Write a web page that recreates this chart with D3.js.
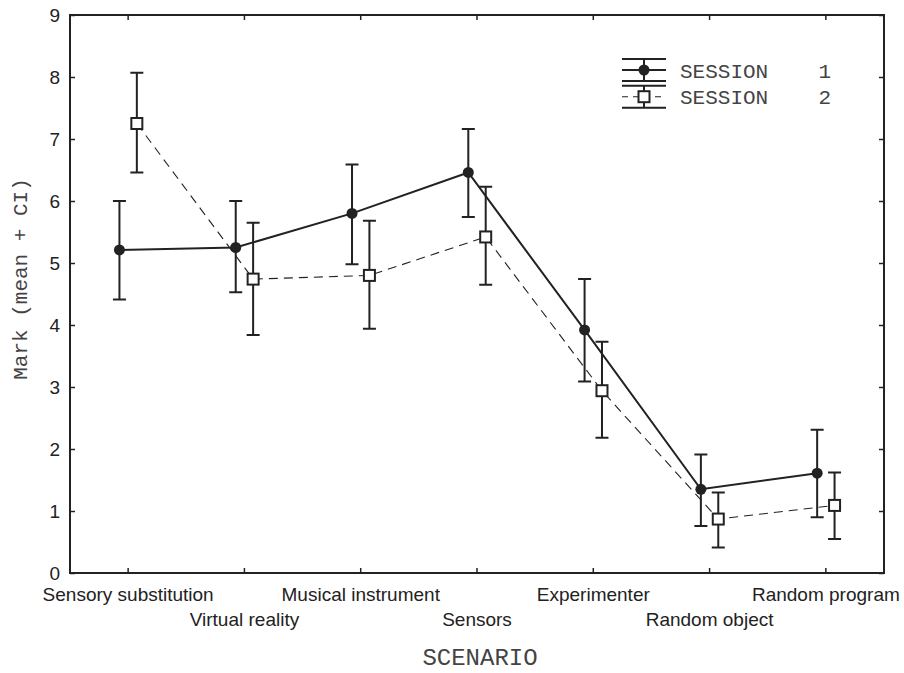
<!DOCTYPE html>
<html>
<head>
<meta charset="utf-8">
<script src="https://cdn.jsdelivr.net/npm/d3@7"></script>
<style>
  body { margin: 0; background: #fff; }
  svg { display: block; }
</style>
</head>
<body>
<div id="chart"></div>
<script>
const WIDTH = 904;
const HEIGHT = 673;
const INK = "#222";

const scenarios = ["Sensory substitution", "Virtual reality", "Musical instrument", "Sensors",
  "Experimenter", "Random object", "Random program"];

// session 1: mean and CI bounds
const s1Mean  = [5.21, 5.25, 5.80, 6.46, 3.92, 1.35, 1.61];
const s1Upper = [6.00, 6.00, 6.59, 7.16, 4.74, 1.91, 2.31];
const s1Lower = [4.41, 4.53, 4.98, 5.74, 3.09, 0.76, 0.90];

// session 2
const s2Mean  = [7.25, 4.74, 4.80, 5.42, 2.94, 0.87, 1.09];
const s2Upper = [8.07, 5.65, 5.68, 6.23, 3.73, 1.30, 1.62];
const s2Lower = [6.46, 3.84, 3.94, 4.65, 2.18, 0.41, 0.55];

const yTicks = [0, 1, 2, 3, 4, 5, 6, 7, 8, 9];
const legendLabels = ["SESSION    1", "SESSION    2"];

const margin = { left: 70, right: 20, top: 15, bottom: 100 };
const plotRight = WIDTH - margin.right;
const plotBottom = HEIGHT - margin.bottom;

const x = d3.scaleBand()
  .domain(scenarios)
  .range([margin.left, plotRight])
  .padding(0);

const y = d3.scaleLinear()
  .domain([0, 9])
  .range([plotBottom, margin.top]);

const cx = d => x(d) + x.bandwidth() / 2;
const OFFSET = 8.7;

const series = [
  { name: "s1", mean: s1Mean, upper: s1Upper, lower: s1Lower, dx: -OFFSET },
  { name: "s2", mean: s2Mean, upper: s2Upper, lower: s2Lower, dx: OFFSET }
].map(s => ({
  ...s,
  points: scenarios.map((c, i) => ({ cat: c, m: s.mean[i], hi: s.upper[i], lo: s.lower[i] }))
}));

const svg = d3.select("#chart")
  .append("svg")
  .attr("width", WIDTH)
  .attr("height", HEIGHT);

// frame
svg.append("rect")
  .attr("x", margin.left)
  .attr("y", margin.top)
  .attr("width", plotRight - margin.left)
  .attr("height", plotBottom - margin.top)
  .attr("fill", "none")
  .attr("stroke", INK)
  .attr("stroke-width", 2);

// left axis
const yAxis = svg.append("g")
  .attr("transform", `translate(${margin.left},0)`)
  .call(d3.axisLeft(y).tickValues(yTicks).tickSize(-5).tickSizeOuter(0).tickPadding(10));
yAxis.select(".domain").remove();
yAxis.selectAll("line").attr("stroke", INK).attr("stroke-width", 1.5);
yAxis.selectAll("text")
  .style("font-family", "'Liberation Sans', Arial, sans-serif")
  .style("font-size", "19px")
  .attr("fill", INK);

// right axis ticks (inward)
const yRight = svg.append("g")
  .attr("transform", `translate(${plotRight},0)`)
  .call(d3.axisRight(y).tickValues(yTicks).tickSize(-5).tickSizeOuter(0).tickFormat(""));
yRight.select(".domain").remove();
yRight.selectAll("line").attr("stroke", INK).attr("stroke-width", 1.5);

// bottom axis with staggered labels
const xAxis = svg.append("g")
  .attr("transform", `translate(0,${plotBottom})`)
  .call(d3.axisBottom(x).tickSize(-5).tickSizeOuter(0).tickPadding(0));
xAxis.select(".domain").remove();
xAxis.selectAll("line").attr("stroke", INK).attr("stroke-width", 1.5);
xAxis.selectAll("text")
  .attr("dy", null)
  .attr("y", (d, i) => i % 2 === 0 ? 28 : 53)
  .style("font-family", "'Liberation Sans', Arial, sans-serif")
  .style("font-size", "19px")
  .attr("fill", INK);

// top ticks (inward)
const xTop = svg.append("g")
  .attr("transform", `translate(0,${margin.top})`)
  .call(d3.axisTop(x).tickSize(-5).tickSizeOuter(0).tickFormat(""));
xTop.select(".domain").remove();
xTop.selectAll("line").attr("stroke", INK).attr("stroke-width", 1.5);

// axis titles
svg.append("text")
  .attr("transform", `translate(27,279) rotate(-90)`)
  .attr("text-anchor", "middle")
  .style("font-family", "'Liberation Mono', 'Courier New', monospace")
  .style("font-size", "21px")
  .attr("fill", "#444")
  .text("Mark (mean + CI)");

svg.append("text")
  .attr("x", 480)
  .attr("y", 665)
  .attr("text-anchor", "middle")
  .style("font-family", "'Liberation Mono', 'Courier New', monospace")
  .style("font-size", "24px")
  .attr("fill", "#444")
  .text("SCENARIO");

// lines
const line = dx => d3.line()
  .x(d => cx(d.cat) + dx)
  .y(d => y(d.m));

series.forEach(s => {
  svg.append("path")
    .datum(s.points)
    .attr("d", line(s.dx))
    .attr("fill", "none")
    .attr("stroke", INK)
    .attr("stroke-width", s.name === "s1" ? 2 : 1.1)
    .attr("stroke-dasharray", s.name === "s1" ? null : "9,6");
});

// error bars
const CAP = 6.5;
series.forEach(s => {
  const g = svg.append("g").attr("stroke", INK).attr("stroke-width", 2);
  g.selectAll(".bar")
    .data(s.points)
    .enter()
    .append("path")
    .attr("fill", "none")
    .attr("d", d => {
      const px = cx(d.cat) + s.dx;
      return `M${px},${y(d.hi)}V${y(d.lo)}` +
        `M${px - CAP},${y(d.hi)}H${px + CAP}` +
        `M${px - CAP},${y(d.lo)}H${px + CAP}`;
    });
});

// markers
svg.append("g")
  .selectAll("circle")
  .data(series[0].points)
  .enter()
  .append("circle")
  .attr("cx", d => cx(d.cat) + series[0].dx)
  .attr("cy", d => y(d.m))
  .attr("r", 5.5)
  .attr("fill", INK);

svg.append("g")
  .selectAll("rect")
  .data(series[1].points)
  .enter()
  .append("rect")
  .attr("x", d => cx(d.cat) + series[1].dx - 5.5)
  .attr("y", d => y(d.m) - 5.5)
  .attr("width", 11)
  .attr("height", 11)
  .attr("fill", "#fff")
  .attr("stroke", INK)
  .attr("stroke-width", 2);

// legend
const legend = svg.append("g").attr("transform", "translate(643,70)");
const rowGap = 26.7;

legendLabels.forEach((label, i) => {
  const row = legend.append("g").attr("transform", `translate(0,${i * rowGap})`);
  row.append("path")
    .attr("d", `M-21,-11H23M-21,11H23M1,-11V11`)
    .attr("stroke", INK)
    .attr("stroke-width", 2)
    .attr("fill", "none");
  row.append("line")
    .attr("x1", -21).attr("x2", 23)
    .attr("stroke", INK)
    .attr("stroke-width", i === 0 ? 2 : 1.1)
    .attr("stroke-dasharray", i === 0 ? null : "6,5");
  if (i === 0) {
    row.append("circle").attr("cx", 1).attr("r", 5.5).attr("fill", INK);
  } else {
    row.append("rect")
      .attr("x", -4.5).attr("y", -5.5)
      .attr("width", 11).attr("height", 11)
      .attr("fill", "#fff")
      .attr("stroke", INK)
      .attr("stroke-width", 2);
  }
  row.append("text")
    .attr("x", 37)
    .attr("y", 7.5)
    .attr("xml:space", "preserve")
    .style("white-space", "pre")
    .style("font-family", "'Liberation Mono', 'Courier New', monospace")
    .style("font-size", "21px")
    .attr("fill", "#444")
    .text(label);
});
</script>
</body>
</html>
